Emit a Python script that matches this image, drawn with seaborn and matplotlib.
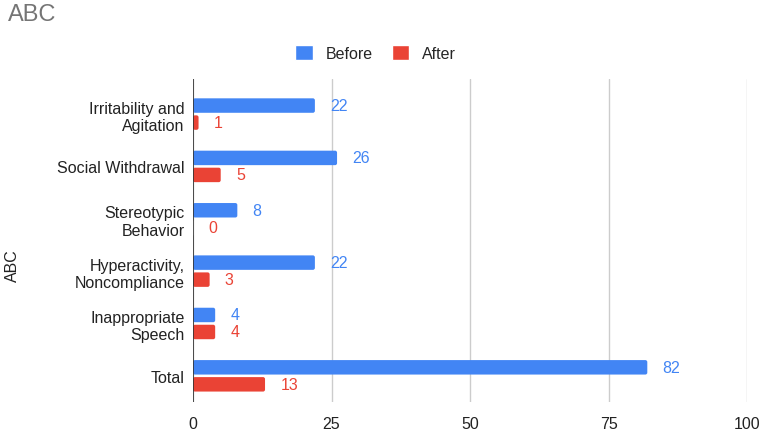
import matplotlib
matplotlib.use("Agg")
import matplotlib.pyplot as plt
import matplotlib.patches as mpatches
import seaborn as sns
import pandas as pd

# ============================================================
# DATA
# ============================================================

categories = [
    "Irritability and Agitation",
    "Social Withdrawal",
    "Stereotypic Behavior",
    "Hyperactivity, Noncompliance",
    "Inappropriate Speech",
    "Total",
]
tick_labels = [
    "Irritability and\nAgitation",
    "Social Withdrawal",
    "Stereotypic\nBehavior",
    "Hyperactivity,\nNoncompliance",
    "Inappropriate\nSpeech",
    "Total",
]
series = ["Before", "After"]
before = [22, 26, 8, 22, 4, 82]
after = [1, 5, 0, 3, 4, 13]
x_ticks = [0, 25, 50, 75, 100]

BLUE = "#4285F4"
RED = "#EA4335"

df = pd.DataFrame({
    "category": categories * 2,
    "series": ["Before"] * len(categories) + ["After"] * len(categories),
    "value": before + after,
})

# ============================================================
# PLOT
# ============================================================

sns.set_style("white")
plt.rcParams["font.family"] = ["Liberation Sans", "DejaVu Sans"]

fig = plt.figure(figsize=(7.65, 4.39), dpi=100)
ax = fig.add_axes([0.2523, 0.082, 0.7242, 0.7358])

sns.barplot(
    data=df, x="value", y="category", hue="series",
    order=categories, hue_order=series,
    palette=[BLUE, RED], orient="h",
    width=0.65, gap=0.15, saturation=1, legend=False, ax=ax,
)

for container, color in zip(ax.containers, [BLUE, RED]):
    ax.bar_label(container, padding=11, color=color, fontsize=11.5)

ax.set_xlim(0, 100)
ax.set_ylim(5.5, -0.67)

# slightly rounded bar ends, like the original chart
x_px = ax.get_window_extent().width / 100
y_px = ax.get_window_extent().height / 6.17
for bar in list(ax.patches):
    w = bar.get_width()
    if w <= 0:
        continue
    rounded = mpatches.FancyBboxPatch(
        (bar.get_x(), bar.get_y()), w, bar.get_height(),
        boxstyle=mpatches.BoxStyle("Round", pad=0, rounding_size=2.0 / x_px),
        mutation_aspect=x_px / y_px,
        facecolor=bar.get_facecolor(), edgecolor="none", zorder=bar.get_zorder(),
    )
    bar.set_visible(False)
    ax.add_patch(rounded)

ax.set_xticks(x_ticks)
ax.set_xticklabels([str(t) for t in x_ticks], fontsize=11.5, color="#222222")
ax.set_yticks(range(len(categories)))
ax.set_yticklabels(tick_labels, fontsize=11.5, color="#222222", ha="right",
                   multialignment="right")
ax.tick_params(axis="both", length=0, pad=6)
ax.tick_params(axis="x", pad=10)

ax.grid(axis="x", color="#cccccc", linewidth=1)
ax.set_axisbelow(True)
for s in ax.spines.values():
    s.set_visible(False)
ax.axvline(0, color="#333333", linewidth=1.2, zorder=3)

ax.set_xlabel("")
ax.set_ylabel("")
fig.text(0.016, 0.396, "ABC", rotation=90, fontsize=11.5, color="#222222",
         ha="center", va="center")

fig.text(0.010, 0.99, "ABC", fontsize=17, color="#757575", ha="left", va="top")

handles = [mpatches.FancyBboxPatch((0, 0), 1, 1, boxstyle="round,pad=0,rounding_size=0.15",
                                   facecolor=BLUE, label="Before"),
           mpatches.FancyBboxPatch((0, 0), 1, 1, boxstyle="round,pad=0,rounding_size=0.15",
                                   facecolor=RED, label="After")]
handles = [mpatches.Patch(facecolor=BLUE, label="Before"),
           mpatches.Patch(facecolor=RED, label="After")]
fig.legend(handles=handles, loc="center", bbox_to_anchor=(0.491, 0.877),
           ncol=2, frameon=False, fontsize=11.5, handlelength=1.1,
           handleheight=1.1, columnspacing=1.2, handletextpad=0.8)

fig.savefig("out.png", dpi=100)
